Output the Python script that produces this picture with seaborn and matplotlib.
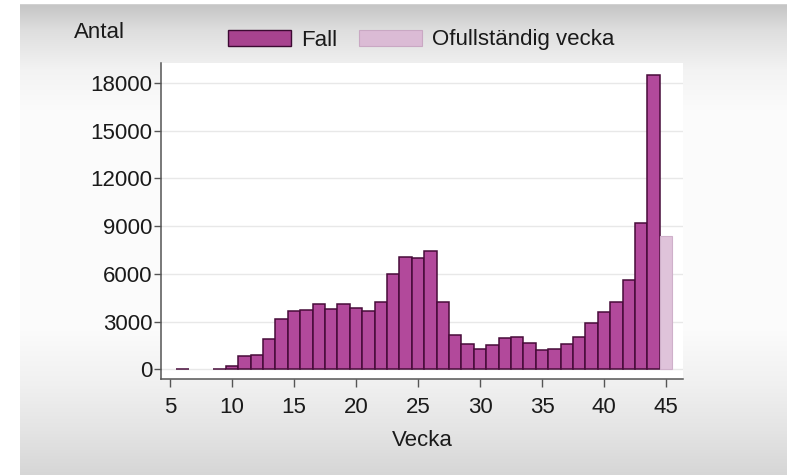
import numpy as np
import matplotlib
matplotlib.use("Agg")
import matplotlib.pyplot as plt
from matplotlib.patches import Patch
import seaborn as sns

# ---- data ----
fall_weeks = [6, 9, 10, 11, 12, 13, 14, 15, 16, 17, 18, 19, 20, 21, 22, 23, 24, 25,
              26, 27, 28, 29, 30, 31, 32, 33, 34, 35, 36, 37, 38, 39, 40, 41, 42,
              43, 44]
fall_counts = [15, 30, 220, 850, 900, 1900, 3180, 3680, 3730, 4130, 3790, 4080,
               3850, 3650, 4220, 5990, 7070, 7010, 7420, 4230, 2150, 1590, 1270,
               1510, 1980, 2010, 1650, 1190, 1280, 1560, 2060, 2900, 3610, 4240,
               5620, 9180, 18510]
partial_weeks = [45]
partial_counts = [8400]

y_ticks = [0, 3000, 6000, 9000, 12000, 15000, 18000]
x_ticks = [5, 10, 15, 20, 25, 30, 35, 40, 45]
legend_labels = ["Fall", "Ofullständig vecka"]

FALL_FC = "#b2499b"
FALL_EC = "#470b39"
PART_FC = "#dfc3da"
PART_EC = "#cfb0ca"
TEXT = "#1a1a1a"
AX = "#555555"

sns.set_theme(style="white")
plt.rcParams["font.family"] = ["Liberation Sans", "DejaVu Sans"]

W, H = 787, 475
fig = plt.figure(figsize=(W / 100, H / 100), dpi=100)
fig.patch.set_facecolor("white")

# background gradient (graph region of the screenshot)
bg = fig.add_axes([0, 0, 1, 1], zorder=-10)
bg.axis("off")
ys = np.arange(H)
prof = np.interp(ys, [0, 5, 30, 70, 110, 330, 385, 430, 475],
                 [255, 198, 222, 243, 251, 251, 240, 228, 214])
img = np.repeat(prof[:, None], W, axis=1)
img[:, :20] = 255
img[:4, :] = 255
rgb = np.stack([img, img, img], axis=-1) / 255.0
bg.imshow(rgb, aspect="auto", extent=[0, 1, 0, 1], transform=bg.transAxes)

ax = fig.add_axes([161 / W, 1 - 379.3 / H, 522 / W, 316.3 / H])
ax.set_facecolor("white")
ax.set_axisbelow(True)
ax.yaxis.grid(True, color="#e8e8e8", lw=1.0)
ax.xaxis.grid(False)

sns.barplot(x=fall_weeks, y=fall_counts, native_scale=True, orient="x", width=1,
            color=FALL_FC, edgecolor=FALL_EC, linewidth=1.1, saturation=1, ax=ax)
sns.barplot(x=partial_weeks, y=partial_counts, native_scale=True, orient="x", width=1,
            color=PART_FC, edgecolor=PART_EC, linewidth=0.8, saturation=1, ax=ax)

ax.set_xlim(4.27, 46.37)
ax.set_ylim(-629, 19264)
ax.set_xticks(x_ticks)
ax.set_xticklabels([str(t) for t in x_ticks])
ax.set_yticks(y_ticks)
ax.set_yticklabels([str(t) for t in y_ticks])

for s in ["top", "right"]:
    ax.spines[s].set_visible(False)
for s in ["left", "bottom"]:
    ax.spines[s].set_color(AX)
    ax.spines[s].set_linewidth(1.1)

ax.tick_params(axis="y", direction="out", length=5, width=1, color=AX,
               labelsize=16, labelcolor=TEXT, pad=1, left=True)
ax.tick_params(axis="x", direction="out", length=6, width=1, color=AX,
               labelsize=16, labelcolor=TEXT, pad=7, bottom=True)

ax.set_xlabel("Vecka", fontsize=16, color=TEXT)
ax.xaxis.set_label_coords(0.5, -0.16)
ax.set_ylabel("Antal", fontsize=16, color=TEXT, rotation=0, ha="center", va="center")
ax.yaxis.set_label_coords((99.5 - 161) / 522, (379.3 - 33) / 316.3)

handles = [Patch(facecolor="#a8438f", edgecolor="#3c0a32", linewidth=1.0, label=legend_labels[0]),
           Patch(facecolor="#dbbbd5", edgecolor="#c9a8c3", linewidth=0.8, label=legend_labels[1])]
fig.legend(handles=handles, loc="center", bbox_to_anchor=(421 / W, 1 - 40 / H), ncol=2,
           frameon=False, fontsize=16, handlelength=2.84, handleheight=0.72,
           handletextpad=0.45, columnspacing=1.0, labelcolor=TEXT)

fig.savefig("out.png", dpi=100)
